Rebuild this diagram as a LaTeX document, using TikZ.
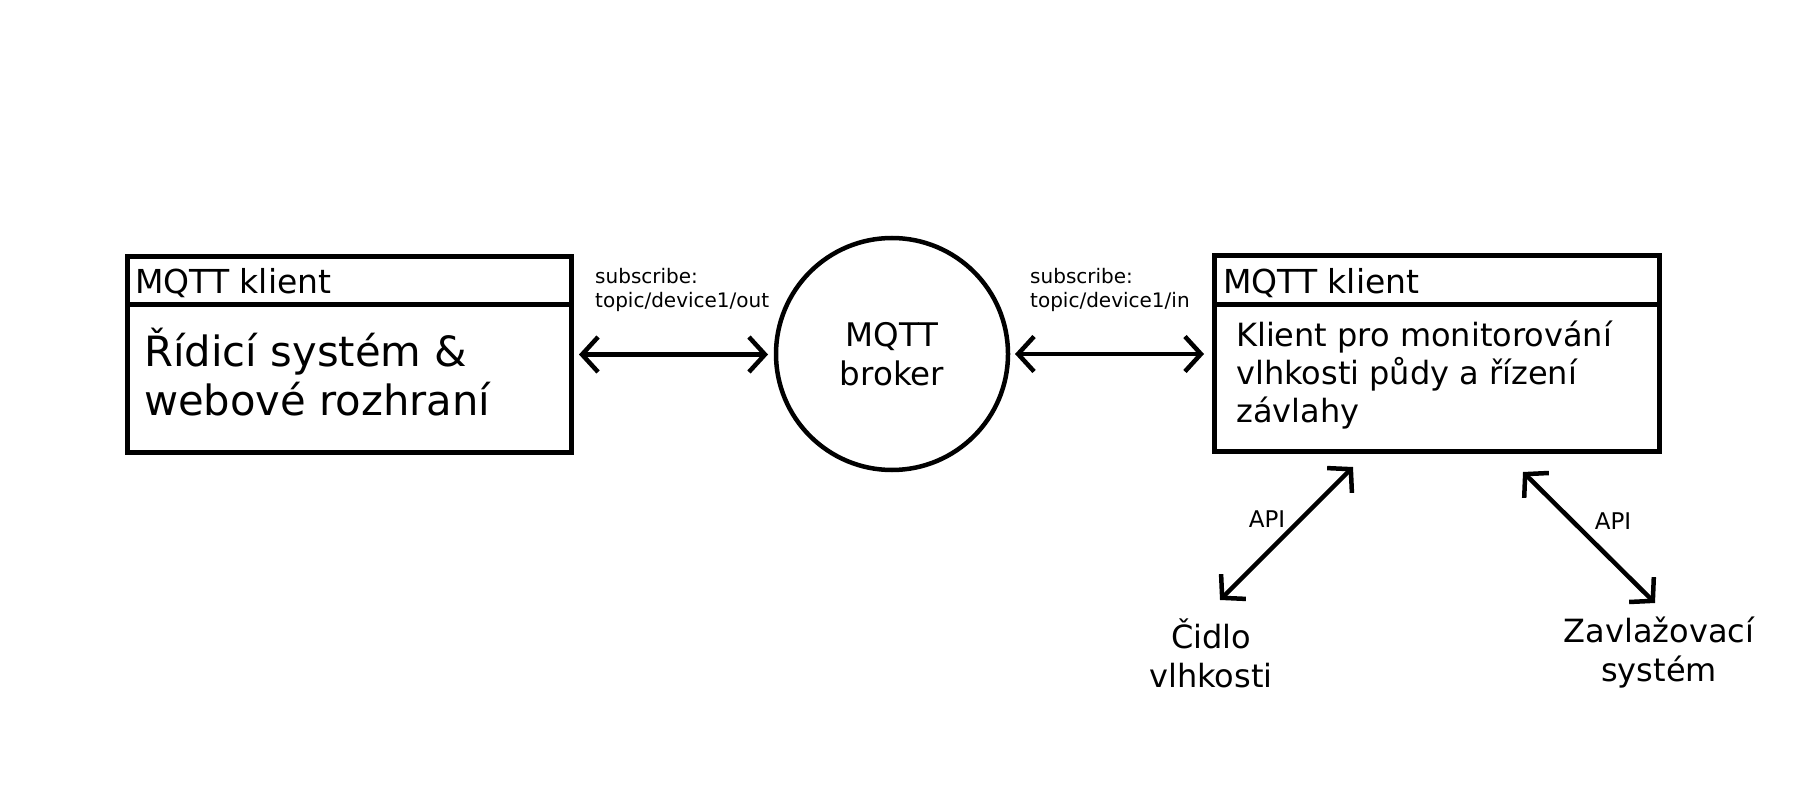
\documentclass[tikz,border=0pt]{standalone}
\usepackage{fontspec}
\setmainfont{DejaVu Sans}
\usetikzlibrary{arrows.meta}
\begin{document}
\begin{tikzpicture}[x=1pt,y=-1pt,
  box/.style={draw, line width=5pt, rectangle, outer sep=0pt, inner sep=0pt},
  divline/.style={line width=5pt},
  ttl/.style={anchor=west, inner sep=0pt, font=\fontsize{33}{38}\selectfont},
  bodyL/.style={anchor=west, inner sep=0pt, align=left, font=\fontsize{41.7}{49.5}\selectfont},
  bodyR/.style={anchor=west, inner sep=0pt, align=left, font=\fontsize{32}{38}\selectfont},
  small/.style={anchor=west, inner sep=0pt, align=left, font=\fontsize{20}{24.5}\selectfont},
  apil/.style={inner sep=0pt, font=\fontsize{23}{27}\selectfont},
  lab/.style={inner sep=0pt, align=center, font=\fontsize{32}{39}\selectfont},
  brk/.style={draw, circle, line width=4.5pt, minimum size=232pt, inner sep=0pt, outer sep=0pt, align=center, font=\fontsize{32.5}{39}\selectfont},
  biarrow/.style={line width=4.5pt, arrows={Straight Barb[length=16pt,width=35pt]-Straight Barb[length=16pt,width=35pt]}}
]
\useasboundingbox (0,0) rectangle (1805,786);

% left box
\node[box, minimum width=444pt, minimum height=195pt] (lbox) at (349,354.5) {};
\coordinate (ldiv) at (0,305);
\draw[divline] (lbox.west |- ldiv) -- (lbox.east |- ldiv);
\node[ttl] (ltitle) at (135,283) {MQTT klient};
\node[bodyL] (lbody) at (144,372) {Řídicí systém \&\\webové rozhraní};

% broker
\node[brk] (broker) at (892,354) {MQTT\\broker};

% right box
\node[box, minimum width=445pt, minimum height=195pt] (rbox) at (1436.5,353.5) {};
\coordinate (rdiv) at (0,305);
\draw[divline] (rbox.west |- rdiv) -- (rbox.east |- rdiv);
\node[ttl] (rtitle) at (1223,283) {MQTT klient};
\node[bodyR] (rbody) at (1236,375.5) {Klient pro monitorování\\vlhkosti půdy a řízení\\závlahy};

% subscribe labels
\node[small] (subL) at (595,290) {subscribe:\\topic/device1/out};
\node[small] (subR) at (1030,290) {subscribe:\\topic/device1/in};

% horizontal arrows
\draw[biarrow, shorten <=8pt, shorten >=8pt] (lbox.east) -- (lbox.east -| broker.west);
\draw[biarrow, shorten <=7pt, shorten >=10pt] (broker.east) -- (broker.east -| rbox.west);

% bottom nodes
\node[lab] (cidlo) at (1211,653) {Čidlo\\vlhkosti};
\node[lab] (zavl) at (1659,653) {Zavlažovací\\systém};

\coordinate (c1) at (1220,600);
\coordinate (r1) at (1353,467);
\coordinate (r2) at (1523,472);
\coordinate (z1) at (1655,603);
\draw[biarrow] (c1) -- (r1);
\draw[biarrow] (r2) -- (z1);

\node[apil] (api1) at (1267,519) {API};
\node[apil] (api2) at (1613,521) {API};
\end{tikzpicture}
\end{document}
